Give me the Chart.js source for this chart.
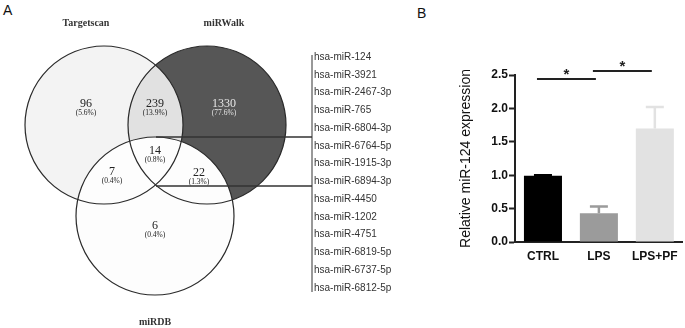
<!DOCTYPE html>
<html lang="en">
<head>
<meta charset="UTF-8">
<title>miR-124 Venn and expression</title>
<script src="https://cdn.jsdelivr.net/npm/chart.js"></script>
<style>
  html, body { margin: 0; padding: 0; background: #fff; }
  .page { position: relative; width: 685px; height: 328px; overflow: hidden; }
  .panel-a { position: absolute; left: 0; top: 0; width: 440px; height: 328px; }
  .panel-b { position: absolute; left: 440px; top: 0; width: 245px; height: 328px; }
  .tag { position: absolute; font-family: Arial, "Liberation Sans", sans-serif; font-size: 14px; color: #111; }
</style>
</head>
<body>
<div class="page">
  <div class="tag" style="left:3px; top:2px;">A</div>
  <div class="tag" style="left:417px; top:5px;">B</div>
  <div class="panel-a"><canvas id="vennChart"></canvas></div>
  <div class="panel-b"><canvas id="barChart"></canvas></div>
</div>

<script>
// ---- panel A: Venn of predicted targets ----
const vennLabels = ["Targetscan", "miRWalk", "miRDB"];
const vennLabelSpots = [[86, 23], [224, 23], [155, 322]];
const vennCircles = [[104, 125], [207, 125], [155, 216]]; // circle centres on the diagram grid
const vennRadius = 79;
const vennFills = ["#f3f3f3", "#565656", "#fdfdfd"];
const pairFill = "#e1e1e1"; // Targetscan ∩ miRWalk only

const regionCounts = [96, 239, 1330, 7, 14, 22, 6];
const regionShares = ["5.6%", "13.9%", "77.6%", "0.4%", "0.8%", "1.3%", "0.4%"];
const regionSpots = [[86, 108], [155, 108], [224, 108], [112, 176], [155, 155], [199, 177], [155, 230]];

const overlapGenes = ["hsa-miR-124", "hsa-miR-3921", "hsa-miR-2467-3p", "hsa-miR-765",
  "hsa-miR-6804-3p", "hsa-miR-6764-5p", "hsa-miR-1915-3p", "hsa-miR-6894-3p", "hsa-miR-4450",
  "hsa-miR-1202", "hsa-miR-4751", "hsa-miR-6819-5p", "hsa-miR-6737-5p", "hsa-miR-6812-5p"];

// ---- panel B: relative expression ----
const groups = ["CTRL", "LPS", "LPS+PF"];
const meanExpr = [0.99, 0.43, 1.70];
const semExpr = [0.01, 0.10, 0.32];
const barColors = ["#000000", "#9b9b9b", "#e2e2e2"];
const sigPairs = [[0, 1, 2.44], [1, 2, 2.56]]; // group a, group b, bracket height

const serif = "'Liberation Serif', 'DejaVu Serif', serif";
const sans = "Arial, 'Liberation Sans', sans-serif";

const vennPlugin = {
  id: "venn",
  afterDatasetsDraw(chart) {
    const ctx = chart.ctx;
    const xs = chart.scales.x, ys = chart.scales.y;
    const px = v => xs.getPixelForValue(v);
    const py = v => ys.getPixelForValue(v);
    const pr = xs.getPixelForValue(vennRadius) - xs.getPixelForValue(0);
    const circle = i => {
      ctx.beginPath();
      ctx.arc(px(vennCircles[i][0]), py(vennCircles[i][1]), pr, 0, Math.PI * 2);
    };

    ctx.save();
    // fills
    circle(0); ctx.fillStyle = vennFills[0]; ctx.fill();
    circle(1); ctx.fillStyle = vennFills[1]; ctx.fill();
    ctx.save();
    circle(0); ctx.clip();
    circle(1); ctx.fillStyle = pairFill; ctx.fill();
    ctx.restore();
    circle(2); ctx.fillStyle = vennFills[2]; ctx.fill();
    // outlines
    ctx.strokeStyle = "#2a2a2a";
    ctx.lineWidth = 1.2;
    for (let i = 0; i < 3; i++) { circle(i); ctx.stroke(); }

    // set names
    ctx.textAlign = "center";
    ctx.textBaseline = "middle";
    ctx.fillStyle = "#333";
    ctx.font = "bold 10px " + serif;
    vennLabels.forEach((t, i) => ctx.fillText(t, px(vennLabelSpots[i][0]), py(vennLabelSpots[i][1])));

    // region counts from the dataset points
    const meta = chart.getDatasetMeta(0);
    meta.data.forEach((pt, i) => {
      const dark = i === 2;
      ctx.fillStyle = dark ? "#e6e6e6" : "#222";
      ctx.font = "12px " + serif;
      ctx.fillText(String(regionCounts[i]), pt.x, pt.y - 4);
      ctx.font = "7.5px " + serif;
      ctx.fillText("(" + regionShares[i] + ")", pt.x, pt.y + 5);
    });

    // connector lines to the gene list
    const listX = px(312);
    ctx.strokeStyle = "#333";
    ctx.lineWidth = 1.5;
    ctx.beginPath();
    ctx.moveTo(px(156), py(137)); ctx.lineTo(listX, py(137));
    ctx.moveTo(px(156), py(186)); ctx.lineTo(listX, py(186));
    ctx.stroke();
    ctx.lineWidth = 1;
    ctx.beginPath();
    ctx.moveTo(listX, py(55)); ctx.lineTo(listX, py(292));
    ctx.stroke();

    // gene list
    ctx.textAlign = "left";
    ctx.fillStyle = "#333";
    ctx.font = "10px " + sans;
    const step = (288 - 57) / (overlapGenes.length - 1);
    overlapGenes.forEach((g, i) => ctx.fillText(g, px(314), py(57 + i * step)));
    ctx.restore();
  }
};

new Chart(document.getElementById("vennChart"), {
  type: "scatter",
  data: {
    datasets: [{
      data: regionSpots.map(p => ({ x: p[0], y: p[1] })),
      pointRadius: 0
    }]
  },
  options: {
    responsive: true,
    maintainAspectRatio: false,
    animation: false,
    events: [],
    layout: { padding: 0, autoPadding: false },
    plugins: { legend: { display: false }, tooltip: { enabled: false } },
    scales: {
      x: { type: "linear", min: 0, max: 440, display: false },
      y: { type: "linear", min: 0, max: 328, reverse: true, display: false }
    }
  },
  plugins: [vennPlugin]
});

const errorBarPlugin = {
  id: "errorBars",
  afterDatasetsDraw(chart) {
    const ctx = chart.ctx;
    const xs = chart.scales.x, ys = chart.scales.y;
    ctx.save();
    ctx.lineWidth = 2.5;
    meanExpr.forEach((m, i) => {
      const x = xs.getPixelForValue(i);
      const y0 = ys.getPixelForValue(m);
      const y1 = ys.getPixelForValue(m + semExpr[i]);
      ctx.strokeStyle = barColors[i];
      ctx.beginPath();
      ctx.moveTo(x, y0); ctx.lineTo(x, y1);
      ctx.moveTo(x - 9, y1); ctx.lineTo(x + 9, y1);
      ctx.stroke();
    });
    // significance brackets
    ctx.strokeStyle = "#222";
    ctx.fillStyle = "#222";
    ctx.lineWidth = 2;
    ctx.textAlign = "center";
    ctx.textBaseline = "middle";
    ctx.font = "bold 15px " + sans;
    sigPairs.forEach(([a, b, h]) => {
      const xa = xs.getPixelForValue(a) - 6;
      const xb = xs.getPixelForValue(b) - 3;
      const y = ys.getPixelForValue(h);
      ctx.beginPath();
      ctx.moveTo(xa, y); ctx.lineTo(xb, y);
      ctx.stroke();
      ctx.fillText("*", (xa + xb) / 2, y - 4);
    });
    ctx.restore();
  }
};

new Chart(document.getElementById("barChart"), {
  type: "bar",
  data: {
    labels: groups,
    datasets: [{
      data: meanExpr,
      backgroundColor: barColors,
      borderWidth: 0,
      barPercentage: 0.68,
      categoryPercentage: 1
    }]
  },
  options: {
    responsive: true,
    maintainAspectRatio: false,
    animation: false,
    events: [],
    layout: { padding: { top: 75, right: 2, left: 0, bottom: 0 }, autoPadding: false },
    plugins: { legend: { display: false }, tooltip: { enabled: false } },
    scales: {
      x: {
        afterFit: s => { s.height = 86; },
        grid: { display: false, drawTicks: false },
        border: { display: true, color: "#222", width: 2 },
        ticks: { color: "#111", padding: 7, font: { family: sans, size: 12, weight: "bold" } }
      },
      y: {
        min: 0,
        max: 2.5,
        afterFit: s => { s.width = 75; },
        grid: { drawOnChartArea: false, drawTicks: true, tickLength: 6, tickWidth: 2, tickColor: "#222" },
        border: { display: true, color: "#222", width: 2 },
        ticks: {
          stepSize: 0.5,
          padding: 1,
          color: "#111",
          font: { family: sans, size: 12, weight: "bold" },
          callback: v => Number(v).toFixed(1)
        },
        title: {
          display: true,
          text: "Relative miR-124 expression",
          color: "#111",
          font: { family: sans, size: 14 },
          padding: { top: 18, bottom: 0 }
        }
      }
    }
  },
  plugins: [errorBarPlugin]
});
</script>
</body>
</html>
